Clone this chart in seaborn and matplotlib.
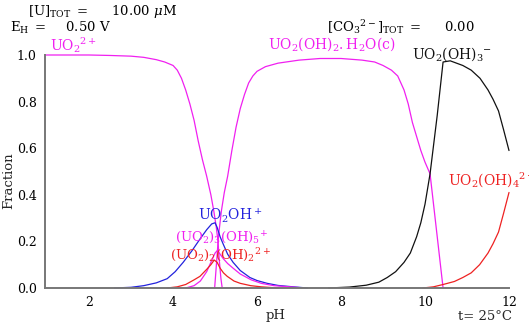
import matplotlib
matplotlib.use("Agg")
import matplotlib.pyplot as plt
from matplotlib.ticker import MultipleLocator
import pandas as pd
import seaborn as sns

# Fraction of total uranium in each species vs pH
ph_uo2 = [0.95, 2.0, 2.5, 3.0, 3.3, 3.6, 3.8, 4.0, 4.1, 4.2, 4.3, 4.4, 4.5, 4.6,
          4.7, 4.8, 4.9, 4.97, 5.03, 5.07, 5.1, 5.14, 5.17]
fr_uo2 = [1.0, 1.0, 0.998, 0.995, 0.99, 0.98, 0.97, 0.955, 0.935, 0.9, 0.85, 0.79,
          0.72, 0.63, 0.55, 0.48, 0.4, 0.33, 0.26, 0.2, 0.12, 0.04, 0.0]

ph_solid = [4.99, 5.04, 5.08, 5.15, 5.22, 5.3, 5.4, 5.5, 5.6, 5.7, 5.8, 5.9, 6.0,
            6.2, 6.5, 7.0, 7.5, 8.0, 8.5, 8.8, 9.0, 9.2, 9.35, 9.5, 9.6, 9.7,
            9.8, 9.9, 10.0, 10.12, 10.43]
fr_solid = [0.0, 0.12, 0.22, 0.33, 0.41, 0.48, 0.59, 0.69, 0.77, 0.83, 0.88, 0.91,
            0.93, 0.95, 0.965, 0.978, 0.985, 0.985, 0.978, 0.97, 0.955, 0.935,
            0.91, 0.85, 0.79, 0.71, 0.65, 0.59, 0.54, 0.49, 0.0]

ph_oh3 = [7.7, 8.2, 8.6, 8.9, 9.1, 9.3, 9.5, 9.65, 9.8, 9.9, 10.0, 10.12, 10.29,
          10.43, 10.6, 10.9, 11.1, 11.31, 11.5, 11.62, 11.75, 11.87, 12.0]
fr_oh3 = [0.0, 0.004, 0.012, 0.025, 0.045, 0.07, 0.11, 0.15, 0.22, 0.28, 0.36,
          0.49, 0.74, 0.97, 0.975, 0.955, 0.935, 0.9, 0.85, 0.81, 0.76, 0.68, 0.59]

ph_oh4 = [9.95, 10.2, 10.43, 10.7, 10.9, 11.1, 11.3, 11.5, 11.62, 11.75, 11.87, 12.0]
fr_oh4 = [0.0, 0.005, 0.015, 0.028, 0.045, 0.065, 0.1, 0.15, 0.19, 0.24, 0.32, 0.41]

ph_oh1 = [2.6, 3.0, 3.3, 3.6, 3.86, 4.05, 4.24, 4.45, 4.64, 4.8, 4.92, 5.0, 5.05,
          5.12, 5.19, 5.3, 5.43, 5.6, 5.83, 6.0, 6.24, 6.5, 6.86, 7.2]
fr_oh1 = [0.0, 0.003, 0.01, 0.022, 0.04, 0.07, 0.11, 0.16, 0.21, 0.25, 0.275, 0.28,
          0.26, 0.22, 0.19, 0.145, 0.11, 0.075, 0.045, 0.032, 0.02, 0.011, 0.005, 0.0]

ph_35 = [4.3, 4.5, 4.65, 4.8, 4.9, 5.0, 5.05, 5.1, 5.2, 5.3, 5.43, 5.6, 5.86, 6.1,
         6.4, 7.0]
fr_35 = [0.0, 0.01, 0.03, 0.07, 0.11, 0.15, 0.16, 0.15, 0.125, 0.105, 0.085, 0.06,
         0.035, 0.02, 0.01, 0.002]

ph_22 = [3.86, 4.1, 4.3, 4.5, 4.64, 4.8, 4.9, 4.98, 5.05, 5.12, 5.2, 5.29, 5.45,
         5.6, 5.85, 6.1, 6.5]
fr_22 = [0.0, 0.005, 0.015, 0.035, 0.05, 0.08, 0.1, 0.12, 0.11, 0.085, 0.065, 0.05,
         0.03, 0.02, 0.01, 0.005, 0.0]

species = {
    "UO2": (ph_uo2, fr_uo2),
    "solid": (ph_solid, fr_solid),
    "OH3": (ph_oh3, fr_oh3),
    "OH4": (ph_oh4, fr_oh4),
    "OH1": (ph_oh1, fr_oh1),
    "U3OH5": (ph_35, fr_35),
    "U2OH2": (ph_22, fr_22),
}
MAG, BLUE, RED, BLK = "#f020f0", "#2222dd", "#ee2222", "#111111"
palette = {"UO2": MAG, "solid": MAG, "OH3": BLK, "OH4": RED,
           "OH1": BLUE, "U3OH5": MAG, "U2OH2": RED}

rows = []
for name, (xs, ys) in species.items():
    for x, y in zip(xs, ys):
        rows.append({"pH": x, "frac": y, "sp": name})
df = pd.DataFrame(rows)

sns.set_theme(style="white")
plt.rcParams["font.family"] = ["DejaVu Serif"]
plt.rcParams["mathtext.fontset"] = "dejavuserif"

fig = plt.figure(figsize=(5.29, 3.27), dpi=100)
ax = fig.add_axes([45 / 529, 1 - 288 / 327, (509 - 45) / 529, (288 - 55) / 327])

sns.lineplot(data=df, x="pH", y="frac", hue="sp", palette=palette,
             estimator=None, units="sp", sort=False, legend=False,
             linewidth=0.9, ax=ax)
for ln in ax.lines:
    ln.set_clip_on(False)

ax.set_xlim(0.95, 12)
ax.set_ylim(0, 1.0)
ax.set_xticks([2, 4, 6, 8, 10, 12])
ax.xaxis.set_minor_locator(MultipleLocator(1))
ax.set_yticks([0, 0.2, 0.4, 0.6, 0.8, 1.0])
ax.set_yticklabels(["0.0", "0.2", "0.4", "0.6", "0.8", "1.0"])
ax.yaxis.set_minor_locator(MultipleLocator(0.1))
ax.tick_params(which="both", direction="in", color="#777777", width=1.0,
               labelsize=9, labelcolor="black", pad=6)
ax.tick_params(which="major", length=5)
ax.tick_params(which="minor", length=3)
for s in ["top", "right"]:
    ax.spines[s].set_visible(False)
for s in ["left", "bottom"]:
    ax.spines[s].set_color("#777777")
    ax.spines[s].set_linewidth(1.4)
ax.set_xlabel("")
ax.set_ylabel("")

fs = 9.5
def lbl(x, y, s, c, size=10):
    fig.text(x / 529, 1 - y / 327, s, color=c, fontsize=size, va="center", ha="left")

lbl(50, 45, r"$\mathrm{UO_2{}^{2+}}$", MAG)
lbl(268, 44, r"$\mathrm{UO_2(OH)_2.H_2O(c)}$", MAG)
lbl(412, 54, r"$\mathrm{UO_2(OH)_3{}^{-}}$", BLK)
lbl(448, 180, r"$\mathrm{UO_2(OH)_4{}^{2-}}$", RED)
lbl(198, 215, r"$\mathrm{UO_2OH^+}$", BLUE)
lbl(175, 238, r"$\mathrm{(UO_2)_3(OH)_5{}^{+}}$", MAG, 9.5)
lbl(170, 255, r"$\mathrm{(UO_2)_2(OH)_2{}^{2+}}$", RED, 9.5)

lbl(28, 12, r"$\mathrm{[U]_{TOT}\ =}$     10.00 $\mu$M", "black", fs)
lbl(10, 28, r"$\mathrm{E_H\ =}$    0.50 V", "black", fs)
lbl(327, 27, r"$\mathrm{[CO_3{}^{2-}]_{TOT}\ =}$     0.00", "black", fs)

fig.text(266 / 529, 1 - 316 / 327, "pH", fontsize=fs, va="center")
fig.text(458 / 529, 1 - 317 / 327, "t= 25°C", fontsize=fs, va="center")
fig.text(2 / 529, 1 - 181 / 327, "Fraction", fontsize=fs, rotation=90,
         va="center", ha="left")

fig.savefig("out.png", dpi=100)
